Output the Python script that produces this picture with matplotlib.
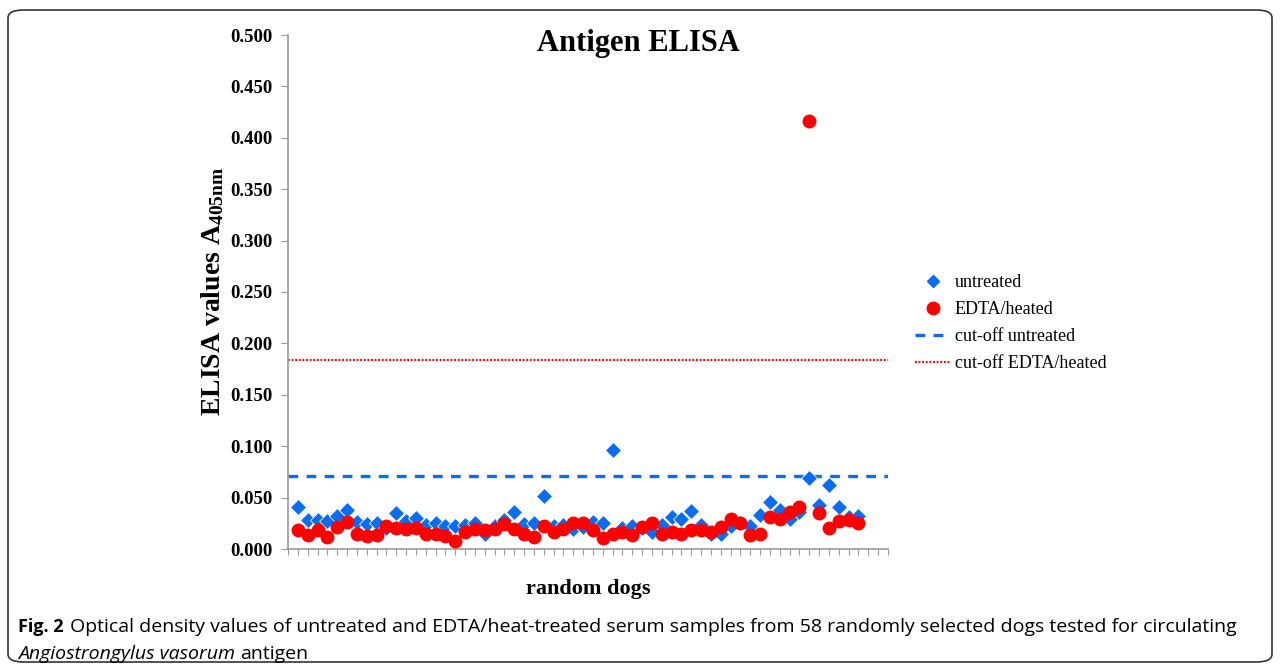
import matplotlib
matplotlib.use("Agg")
import matplotlib.pyplot as plt
from matplotlib.lines import Line2D
from matplotlib.patches import FancyBboxPatch
import numpy as np

plt.rcParams['lines.scale_dashes'] = False
plt.rcParams['mathtext.fontset'] = 'custom'
plt.rcParams['mathtext.rm'] = 'Liberation Serif'
plt.rcParams['mathtext.bf'] = 'Liberation Serif:bold'
plt.rcParams['mathtext.it'] = 'Liberation Serif:italic'

# ---- data ----
untreated = [0.041, 0.028, 0.028, 0.027, 0.032, 0.038, 0.026, 0.024, 0.025, 0.020,
             0.035, 0.027, 0.030, 0.023, 0.025, 0.022, 0.022, 0.023, 0.025, 0.015,
             0.022, 0.028, 0.036, 0.024, 0.025, 0.052, 0.022, 0.023, 0.019, 0.021,
             0.026, 0.025, 0.096, 0.020, 0.022, 0.020, 0.017, 0.023, 0.031, 0.029,
             0.037, 0.023, 0.015, 0.015, 0.022, 0.025, 0.022, 0.033, 0.046, 0.038,
             0.029, 0.036, 0.069, 0.043, 0.062, 0.041, 0.031, 0.032]
edta_heated = [0.018, 0.014, 0.018, 0.012, 0.021, 0.026, 0.015, 0.013, 0.014, 0.022,
               0.020, 0.019, 0.020, 0.015, 0.015, 0.013, 0.008, 0.017, 0.019, 0.018,
               0.019, 0.024, 0.019, 0.015, 0.012, 0.022, 0.017, 0.019, 0.025, 0.025,
               0.018, 0.011, 0.015, 0.017, 0.014, 0.021, 0.025, 0.015, 0.017, 0.015,
               0.018, 0.018, 0.017, 0.021, 0.029, 0.025, 0.014, 0.015, 0.031, 0.029,
               0.036, 0.041, 0.416, 0.035, 0.020, 0.027, 0.028, 0.025]
cutoff_untreated = 0.071
cutoff_edta = 0.184
n_categories = 61
yticks = [0.0, 0.05, 0.1, 0.15, 0.2, 0.25, 0.3, 0.35, 0.4, 0.45, 0.5]

title = "Antigen ELISA"
ylabel = r"ELISA values A$_{\mathbf{405nm}}$"
xlabel = "random dogs"
legend_labels = ["untreated", "EDTA/heated", "cut-off untreated", "cut-off EDTA/heated"]

blue = "#0A6CF0"
red = "#FF0000"
serif = "Liberation Serif"
sans = "Open Sans"

fig = plt.figure(figsize=(12.81, 6.70), dpi=100)
ax = fig.add_axes([288/1281, 1-549/670, 600/1281, 514/670])

x = np.arange(1, len(untreated) + 1)
ax.plot(x, untreated, linestyle="none", marker="D", markersize=8.0,
        color=blue, markeredgecolor="white", markeredgewidth=0.6, zorder=3)
ax.plot(x, edta_heated, linestyle="none", marker="o", markersize=9.0,
        color=red, markeredgecolor=red, zorder=4)
ax.axhline(cutoff_untreated, color=blue, linewidth=2.4, dashes=(7, 6), zorder=2)
ax.axhline(cutoff_edta, color=red, linewidth=1.6, dashes=(1.3, 1.3), zorder=2)

ax.set_xlim(0, n_categories)
ax.set_ylim(0, 0.5)
ax.set_xticks(np.arange(0, n_categories + 1, 1))
ax.set_xticklabels([])
ax.set_yticks(yticks)
ax.set_yticklabels([f"{v:.3f}" for v in yticks], fontfamily=serif,
                   fontweight="bold", fontsize=13.5)
ax.tick_params(axis="x", direction="out", length=4, width=0.8, color="#999999")
ax.tick_params(axis="y", direction="out", length=5, width=0.8, color="#999999", pad=6)
for s in ["top", "right"]:
    ax.spines[s].set_visible(False)
for s in ["left", "bottom"]:
    ax.spines[s].set_color("#999999")
    ax.spines[s].set_linewidth(1.2)

fig.text(638/1281, 1-43/670, title, ha="center", va="center",
         fontfamily=serif, fontweight="bold", fontsize=22)
fig.text(213/1281, 1-291/670, ylabel, ha="center", va="center", rotation=90,
         fontfamily=serif, fontweight="bold", fontsize=20)
fig.text(588/1281, 1-589/670, xlabel, ha="center", va="center",
         fontfamily=serif, fontweight="bold", fontsize=16)

handles = [
    Line2D([], [], linestyle="none", marker="D", markersize=6.5, color=blue),
    Line2D([], [], linestyle="none", marker="o", markersize=9, color=red),
    Line2D([], [], color=blue, linewidth=2.4, dashes=(7, 6)),
    Line2D([], [], color=red, linewidth=1.6, dashes=(1.3, 1.3)),
]
fig.legend(handles, legend_labels, loc="upper left", bbox_to_anchor=(906/1281, 1-265/670),
           frameon=False, prop={"family": serif, "size": 13},
           handlelength=2.0, handletextpad=0.2, labelspacing=0.56, borderpad=0)

# caption
cap_size = 14
f2 = fig.text(18/1281, 1-627/670, "Fig. 2", ha="left", va="center",
              fontfamily=sans, fontweight="bold", fontsize=13)
fig.canvas.draw()
bb0 = f2.get_window_extent()
fig.text((bb0.x1 + 6)/1281, 1-627/670,
         "Optical density values of untreated and EDTA/heat-treated serum samples from 58 randomly selected dogs tested for circulating",
         ha="left", va="center", fontfamily=sans, fontsize=cap_size)
t1 = fig.text(18/1281, 1-654/670, "Angiostrongylus vasorum", ha="left", va="center",
              fontfamily=sans, fontstyle="italic", fontsize=cap_size)
fig.canvas.draw()
bb = t1.get_window_extent()
fig.text((bb.x1 + 5)/1281, 1-654/670, "antigen", ha="left", va="center",
         fontfamily=sans, fontsize=cap_size)

frame = FancyBboxPatch((8/1281, 8/670), 1264/1281, 652/670,
                       boxstyle="round,pad=0,rounding_size=0.012",
                       transform=fig.transFigure, fill=False,
                       edgecolor="#333333", linewidth=1.2)
fig.patches.append(frame)

fig.savefig("out.png", dpi=100)
